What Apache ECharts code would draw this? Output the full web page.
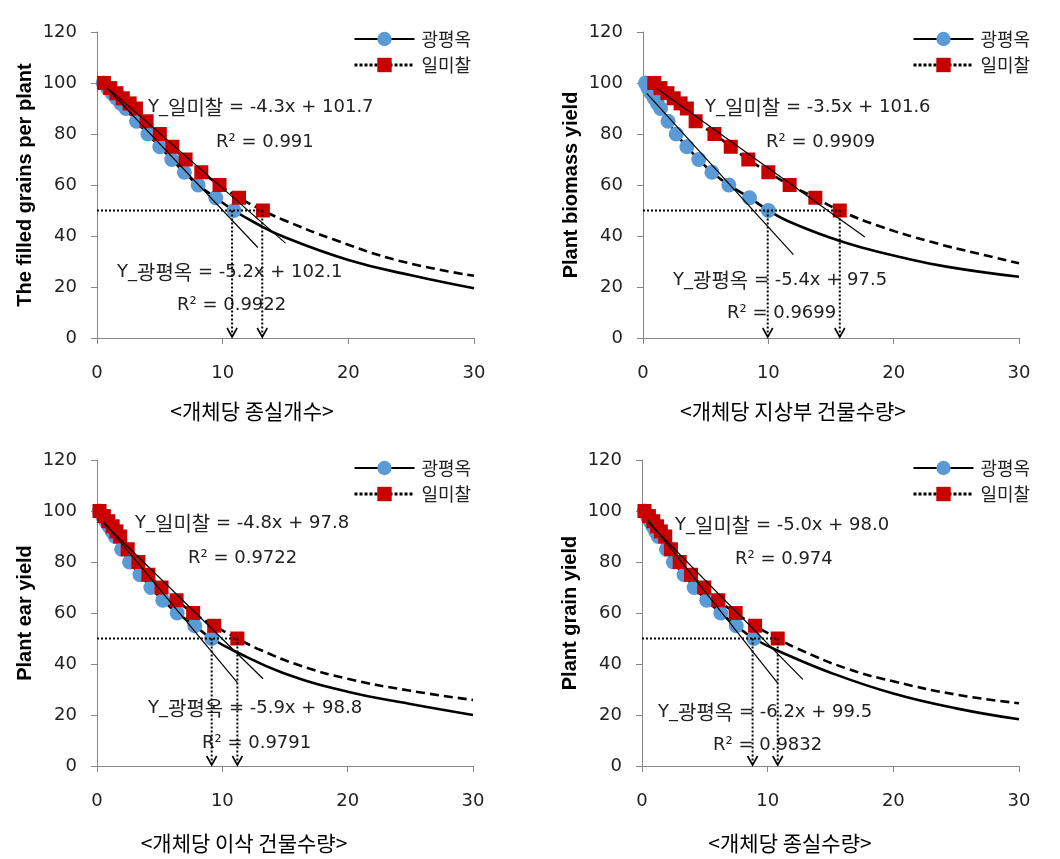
<!DOCTYPE html>
<html><head><meta charset="utf-8">
<script src="https://cdn.jsdelivr.net/npm/echarts@6/dist/echarts.min.js"></script>
<style>html,body{margin:0;padding:0;background:#fff}#c{width:1060px;height:859px}</style>
</head><body><div id="c"></div><script>
// ---------- data ----------
const seriesNames = ['광평옥', '일미찰'];
const levels = [100, 98, 96, 94, 92, 90, 85, 80, 75, 70, 65, 60, 55, 50];

// panel 1: filled grains per plant
const p1BlueX = [0.5, 0.85, 1.2, 1.55, 1.9, 2.3, 3.15, 4.05, 5.0, 5.95, 6.95, 8.05, 9.45, 10.9];
const p1RedX  = [0.55, 1.05, 1.55, 2.05, 2.6, 3.1, 3.95, 5.0, 6.0, 7.05, 8.3, 9.75, 11.3, 13.2];
const p1BlueTail = [[12.5, 45.4], [14.8, 39.8], [20, 30.6], [25, 24.6], [30, 19.5]];
const p1RedTail  = [[14.8, 46.4], [18.8, 38.7], [24.1, 30.2], [30, 24.4]];
const p1RegBlue = [[0.8, 98.0], [12.8, 35.5]];
const p1RegRed  = [[1.0, 97.4], [15.0, 37.2]];
const p1Drops = [10.75, 13.15];
const p1Eq = ['Y_일미찰 = -4.3x + 101.7', 'R² = 0.991', 'Y_광평옥 = -5.2x + 102.1', 'R² = 0.9922'];

// panel 2: plant biomass yield
const p2BlueX = [0.2, 0.4, 0.65, 0.9, 1.15, 1.4, 2.0, 2.65, 3.5, 4.45, 5.5, 6.85, 8.5, 10.0];
const p2RedX  = [0.9, 1.4, 1.95, 2.45, 3.0, 3.5, 4.2, 5.7, 7.0, 8.4, 10.0, 11.7, 13.75, 15.7];
const p2BlueTail = [[11.5, 46.0], [14.9, 39.4], [17.6, 35.3], [20.3, 32.0], [24.2, 28.0], [30, 24.0]];
const p2RedTail  = [[18.9, 43.8], [22.9, 37.8], [26.9, 32.9], [30, 29.3]];
const p2RegBlue = [[0.3, 95.9], [12.0, 32.7]];
const p2RegRed  = [[1.1, 97.8], [17.7, 39.6]];
const p2Drops = [9.95, 15.7];
const p2Eq = ['Y_일미찰 = -3.5x + 101.6', 'R² = 0.9909', 'Y_광평옥 = -5.4x + 97.5', 'R² = 0.9699'];

// panel 3: plant ear yield
const p3BlueX = [0.2, 0.45, 0.7, 0.95, 1.2, 1.45, 1.97, 2.6, 3.43, 4.3, 5.25, 6.4, 7.8, 9.15];
const p3RedX  = [0.2, 0.55, 0.9, 1.25, 1.55, 1.85, 2.45, 3.3, 4.1, 5.15, 6.35, 7.67, 9.35, 11.2];
const p3BlueTail = [[11.0, 45.0], [14.8, 36.6], [20, 29.1], [24.9, 24.4], [30, 20.0]];
const p3RedTail  = [[13.0, 45.6], [16.2, 39.4], [20, 34.2], [24.9, 29.6], [30, 25.9]];
const p3RegBlue = [[0.5, 95.9], [11.2, 32.7]];
const p3RegRed  = [[0.5, 95.4], [13.25, 34.2]];
const p3Drops = [9.15, 11.2];
const p3Eq = ['Y_일미찰 = -4.8x + 97.8', 'R² = 0.9722', 'Y_광평옥 = -5.9x + 98.8', 'R² = 0.9791'];

// panel 4: plant grain yield
const p4BlueX = [0.2, 0.42, 0.64, 0.86, 1.08, 1.3, 1.95, 2.5, 3.35, 4.15, 5.15, 6.27, 7.5, 8.9];
const p4RedX  = [0.2, 0.55, 0.9, 1.2, 1.5, 1.85, 2.3, 3.0, 3.9, 4.95, 6.07, 7.45, 9.0, 10.8];
const p4BlueTail = [[11.0, 44.8], [15.0, 36.6], [20, 28.4], [25, 22.6], [30, 18.3]];
const p4RedTail  = [[12.3, 46.2], [16.3, 38.2], [20, 33.2], [25, 28.0], [30, 24.6]];
const p4RegBlue = [[0.5, 96.4], [10.8, 32.5]];
const p4RegRed  = [[0.5, 95.5], [12.8, 34.0]];
const p4Drops = [8.8, 10.8];
const p4Eq = ['Y_일미찰 = -5.0x + 98.0', 'R² = 0.974', 'Y_광평옥 = -6.2x + 99.5', 'R² = 0.9832'];

const yTitles = ['The filled grains per plant', 'Plant biomass yield', 'Plant ear yield', 'Plant grain yield'];
const captions = ['<개체당 종실개수>', '<개체당 지상부 건물수량>', '<개체당 이삭 건물수량>', '<개체당 종실수량>'];

// ---------- layout / style ----------
const BLUE = '#5B9BD5', RED = '#C80000', AXIS = '#868686', TXT = '#222';
const panels = [
  {blueX:p1BlueX, redX:p1RedX, blueTail:p1BlueTail, redTail:p1RedTail, regBlue:p1RegBlue, regRed:p1RegRed, drops:p1Drops, eq:p1Eq},
  {blueX:p2BlueX, redX:p2RedX, blueTail:p2BlueTail, redTail:p2RedTail, regBlue:p2RegBlue, regRed:p2RegRed, drops:p2Drops, eq:p2Eq},
  {blueX:p3BlueX, redX:p3RedX, blueTail:p3BlueTail, redTail:p3RedTail, regBlue:p3RegBlue, regRed:p3RegRed, drops:p3Drops, eq:p3Eq},
  {blueX:p4BlueX, redX:p4RedX, blueTail:p4BlueTail, redTail:p4RedTail, regBlue:p4RegBlue, regRed:p4RegRed, drops:p4Drops, eq:p4Eq}
];
const layout = [
  {grid:{left:97, top:32, width:377, height:306}, legend:{left:348, top:25}, eqPos:[[148,107],[216,142],[117,272],[177,305]], cap:[252,411]},
  {grid:{left:643, top:32, width:376, height:306}, legend:{left:907, top:25}, eqPos:[[705,107],[766,142],[673,280],[727,313]], cap:[793,411]},
  {grid:{left:97, top:460, width:376, height:306}, legend:{left:348, top:454}, eqPos:[[135,523],[188,558],[148,708],[202,743]], cap:[244,843]},
  {grid:{left:642, top:460, width:377, height:306}, legend:{left:907, top:454}, eqPos:[[675,525],[735,559],[658,712],[713,745]], cap:[790,843]}
];

function arrowItem(params, api) {
  const x = api.value(0);
  const a = api.coord([x, 50]);
  const b = api.coord([x, 0]);
  return {type:'group', children:[
    {type:'line', shape:{x1:a[0], y1:a[1], x2:b[0], y2:b[1]-1}, style:{stroke:'#000', lineWidth:2, lineDash:[2,2]}},
    {type:'polyline', shape:{points:[[b[0]-5, b[1]-10], [b[0], b[1]-1], [b[0]+5, b[1]-10]]}, style:{stroke:'#000', lineWidth:1.6, fill:null}}
  ]};
}
function richify(s) { return s.replace(/([가-힣]+)/g, '{k|$1}'); }

const grid = [], xAxis = [], yAxis = [], series = [], legend = [], graphic = [];
panels.forEach((p, i) => {
  const L = layout[i];
  grid.push(Object.assign({containLabel:false}, L.grid));
  xAxis.push({gridIndex:i, type:'value', min:0, max:30, interval:10,
    axisLine:{show:true, onZero:false, lineStyle:{color:AXIS, width:1}},
    axisTick:{show:true, length:6, lineStyle:{color:AXIS}},
    splitLine:{show:false},
    axisLabel:{fontSize:18, fontFamily:'DejaVu Sans', color:TXT, margin:26}});
  yAxis.push({gridIndex:i, type:'value', min:0, max:120, interval:20,
    axisLine:{show:true, onZero:false, lineStyle:{color:AXIS, width:1}},
    axisTick:{show:true, length:6, lineStyle:{color:AXIS}},
    splitLine:{show:false},
    axisLabel:{fontSize:18, fontFamily:'DejaVu Sans', color:TXT, margin:20},
    name:yTitles[i], nameLocation:'middle', nameGap:62,
    nameTextStyle:{fontSize:20, fontWeight:'bold', fontFamily:'Liberation Sans', color:'#000'}});

  const blueData = levels.map((y, k) => [p.blueX[k], y]).concat(p.blueTail.map(v => ({value:v, symbol:'none'})));
  const redData = levels.map((y, k) => [p.redX[k], y]).concat(p.redTail.map(v => ({value:v, symbol:'none'})));

  series.push({type:'line', name:seriesNames[0], xAxisIndex:i, yAxisIndex:i, data:blueData, smooth:0.45,
    symbol:'circle', symbolSize:15, itemStyle:{color:BLUE, borderWidth:0},
    lineStyle:{color:'#000', width:2.6}, z:2, emphasis:{disabled:true}});
  series.push({type:'line', name:seriesNames[1], xAxisIndex:i, yAxisIndex:i, data:redData, smooth:0.45,
    symbol:'rect', symbolSize:14, itemStyle:{color:RED, borderWidth:0},
    lineStyle:{color:'#000', width:2.6, type:[9,5]}, z:3, emphasis:{disabled:true}});
  series.push({type:'line', name:'fit-b'+i, xAxisIndex:i, yAxisIndex:i, data:p.regBlue, symbol:'none',
    lineStyle:{color:'#000', width:1.2}, z:5, silent:true});
  series.push({type:'line', name:'fit-r'+i, xAxisIndex:i, yAxisIndex:i, data:p.regRed, symbol:'none',
    lineStyle:{color:'#000', width:1.2}, z:5, silent:true});
  series.push({type:'line', name:'half'+i, xAxisIndex:i, yAxisIndex:i, data:[[0,50],[Math.max.apply(null, p.drops),50]], symbol:'none',
    lineStyle:{color:'#000', width:2, type:[2,2]}, z:6, silent:true});
  series.push({type:'custom', name:'drop'+i, xAxisIndex:i, yAxisIndex:i, data:p.drops.map(x => [x, 0]),
    renderItem:arrowItem, z:6, silent:true});

  legend.push({orient:'vertical', left:L.legend.left, top:L.legend.top, itemWidth:60, itemHeight:18, itemGap:8,
    selectedMode:false,
    textStyle:{fontSize:18, fontFamily:'Noto Sans CJK KR', color:TXT, padding:[0,0,0,2]},
    data:[{name:seriesNames[0]}, {name:seriesNames[1], lineStyle:{type:[3,2], width:3}}]});

  p.eq.forEach((s, k) => {
    graphic.push({type:'text', x:L.eqPos[k][0], y:L.eqPos[k][1], silent:true,
      style:{text:richify(s), fontSize:18, fontFamily:'DejaVu Sans', fill:TXT, verticalAlign:'middle',
        rich:{k:{fontSize:20, fontFamily:'Noto Sans CJK KR', fill:TXT}}}});
  });
  graphic.push({type:'text', x:L.cap[0], y:L.cap[1], silent:true,
    style:{text:captions[i], fontSize:21, fontFamily:'Noto Sans CJK KR', fill:'#000', align:'center', verticalAlign:'middle'}});
});

const chart = echarts.init(document.getElementById('c'), null, {renderer:'canvas'});
chart.setOption({animation:false, backgroundColor:'#fff', grid, xAxis, yAxis, series, legend, graphic});
</script></body></html>
